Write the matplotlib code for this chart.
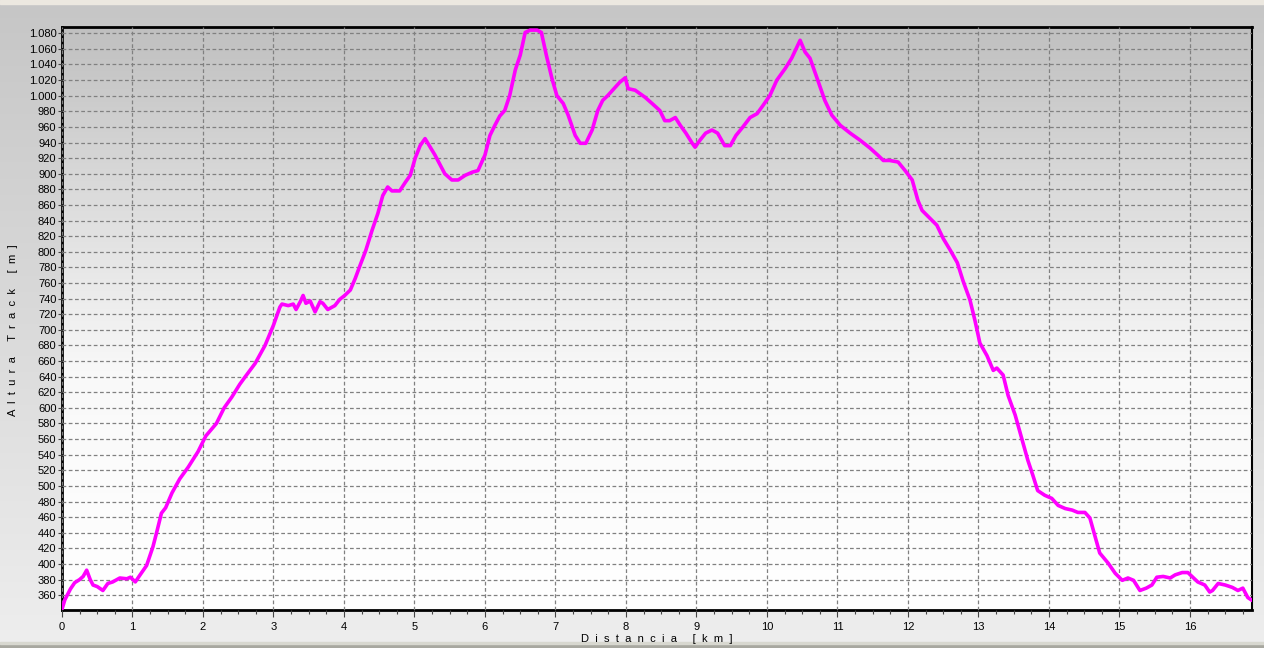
import matplotlib
matplotlib.use('Agg')
import matplotlib.pyplot as plt
import matplotlib.ticker as mticker
import numpy as np

# elevation profile: distance [km], altitude [m]
dist_km = [0.00, 0.04, 0.12, 0.18, 0.25, 0.30, 0.35, 0.40, 0.44, 0.50, 0.58, 0.65,
           0.72, 0.82, 0.92, 0.97, 1.04, 1.10, 1.20, 1.29, 1.35, 1.41, 1.47, 1.56,
           1.67, 1.79, 1.93, 2.04, 2.19, 2.30, 2.41, 2.52, 2.60, 2.74, 2.88, 3.00,
           3.09, 3.12, 3.21, 3.28, 3.32, 3.38, 3.42, 3.46, 3.52, 3.59, 3.66, 3.70,
           3.77, 3.87, 3.94, 4.01, 4.09, 4.16, 4.23, 4.31, 4.40, 4.48, 4.55, 4.62,
           4.68, 4.79, 4.87, 4.94, 5.01, 5.08, 5.15, 5.29, 5.43, 5.53, 5.62, 5.72,
           5.82, 5.90, 6.00, 6.07, 6.14, 6.21, 6.28, 6.35, 6.43, 6.50, 6.57, 6.64,
           6.74, 6.80, 6.87, 6.95, 7.02, 7.11, 7.18, 7.28, 7.35, 7.43, 7.52, 7.60,
           7.67, 7.74, 7.83, 7.91, 7.99, 8.03, 8.13, 8.27, 8.37, 8.48, 8.55, 8.62,
           8.70, 8.77, 8.85, 8.94, 8.98, 9.05, 9.13, 9.22, 9.30, 9.40, 9.48, 9.56,
           9.65, 9.76, 9.86, 9.94, 10.04, 10.14, 10.26, 10.35, 10.47, 10.54, 10.61,
           10.72, 10.82, 10.92, 11.04, 11.18, 11.32, 11.46, 11.57, 11.65, 11.74,
           11.86, 11.96, 12.06, 12.14, 12.20, 12.31, 12.41, 12.50, 12.60, 12.70,
           12.78, 12.88, 12.95, 13.02, 13.12, 13.21, 13.26, 13.35, 13.42, 13.52,
           13.62, 13.70, 13.77, 13.84, 13.94, 14.04, 14.13, 14.23, 14.33, 14.41,
           14.51, 14.58, 14.67, 14.72, 14.84, 14.94, 15.04, 15.12, 15.20, 15.29,
           15.38, 15.46, 15.53, 15.62, 15.72, 15.79, 15.89, 15.97, 16.04, 16.11,
           16.21, 16.28, 16.32, 16.40, 16.50, 16.60, 16.68, 16.75, 16.82, 16.87]
alt_m = [342, 354, 368, 376, 380, 384, 392, 380, 373, 371, 366, 375,
         377, 382, 381, 383, 377, 385, 398, 422, 443, 465, 472, 491,
         509, 524, 544, 564, 580, 600, 614, 630, 640, 657, 680, 706,
         729, 733, 731, 733, 726, 736, 744, 734, 737, 723, 736, 734,
         726, 731, 739, 744, 751, 766, 783, 802, 828, 849, 872, 883,
         878, 878, 889, 898, 920, 936, 945, 924, 900, 892, 892, 898,
         902, 904, 924, 949, 962, 974, 981, 1000, 1033, 1052, 1081, 1084,
         1084, 1081, 1052, 1022, 1000, 990, 975, 949, 939, 939, 956, 981,
         994, 1000, 1009, 1017, 1023, 1009, 1007, 998, 990, 981, 968, 968,
         972, 962, 952, 939, 934, 943, 952, 956, 952, 936, 936, 949,
         959, 972, 977, 987, 1000, 1020, 1035, 1048, 1071, 1056, 1048,
         1020, 994, 975, 962, 952, 943, 933, 924, 917, 917,
         915, 904, 892, 866, 853, 843, 834, 817, 802, 786,
         763, 738, 712, 683, 667, 648, 651, 642, 616, 591,
         559, 533, 514, 494, 488, 484, 475, 471, 469, 466,
         466, 459, 430, 414, 401, 388, 379, 382, 379, 366,
         369, 373, 383, 384, 382, 386, 389, 389, 383, 377,
         373, 364, 366, 375, 373, 370, 366, 369, 357, 354]

y_ticks = list(range(360, 1081, 20))
x_ticks = list(range(0, 17))
x_label = "Distancia [km]"
y_label = "Altura Track [m]"


def thousands_dot(v, pos):
    return f"{int(v):,}".replace(",", ".")


def spaced(s):
    # the original software draws its axis titles letter-spaced
    return "  ".join(s)


fig = plt.figure(figsize=(12.64, 6.48), dpi=100)
plt.rcParams['font.family'] = ['Liberation Sans', 'DejaVu Sans']

# figure background: grey gradient, light strip on top, dark strip at the bottom
bg = fig.add_axes([0, 0, 1, 1], zorder=-10)
grad = np.linspace(0, 1, 256).reshape(-1, 1)
bg.imshow(grad, aspect='auto', extent=[0, 1, 0, 1], origin='upper',
          cmap=matplotlib.colors.LinearSegmentedColormap.from_list('fbg', ['#c6c6c6', '#eeeeee']))
bg.axhspan(0.0, 0.006, color='#a8a8a0')
bg.axhspan(0.006, 0.009, color='#d8d8d0')
bg.axhspan(0.994, 1.0, color='#ece8e0')
bg.set_xlim(0, 1)
bg.set_ylim(0, 1)
bg.axis('off')

ax = fig.add_axes([62 / 1264, 1 - 610 / 648, (1252 - 62) / 1264, (610 - 27) / 648])
xmin, xmax = 0, 16.88
ymin, ymax = 341, 1088
cmap_plot = matplotlib.colors.LinearSegmentedColormap.from_list(
    'pbg', [(0, '#c0c0c0'), (0.6, '#f9f9f9'), (1, '#ffffff')])
ax.imshow(grad, aspect='auto', extent=[xmin, xmax, ymin, ymax], origin='upper',
          cmap=cmap_plot, zorder=0)

ax.plot(dist_km, alt_m, color='#ff00ff', lw=2.6, zorder=3, solid_joinstyle='round')

ax.set_xlim(xmin, xmax)
ax.set_ylim(ymin, ymax)
ax.set_xticks(x_ticks)
ax.set_yticks(y_ticks)
ax.xaxis.set_minor_locator(mticker.MultipleLocator(0.25))
ax.yaxis.set_major_formatter(mticker.FuncFormatter(thousands_dot))
ax.grid(True, which='major', color='#808080', linestyle=(0, (3, 2)), linewidth=0.9, zorder=1)
ax.set_axisbelow(False)

for s in ax.spines.values():
    s.set_color('black')
    s.set_linewidth(2)
ax.spines['right'].set_linewidth(1.5)

ax.tick_params(axis='y', length=3, width=0.8, labelsize=8, pad=1, color='#444444')
ax.tick_params(axis='x', which='major', length=5, width=0.8, labelsize=8, pad=4, color='#444444')
ax.tick_params(axis='x', which='minor', length=3, width=0.8, color='#444444')

ax.set_xlabel(spaced(x_label), fontsize=8, labelpad=1)
ax.set_ylabel(spaced(y_label), fontsize=8)
ax.yaxis.set_label_coords(-0.037, 0.48)

fig.savefig("out.png", dpi=100)
